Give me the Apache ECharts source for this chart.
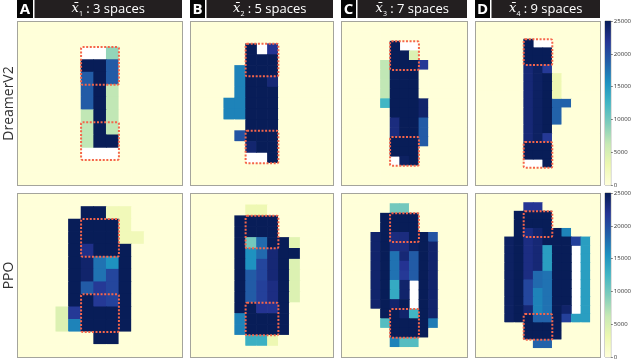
<!DOCTYPE html>
<html><head><meta charset="utf-8">
<script src="https://cdn.jsdelivr.net/npm/echarts@6/dist/echarts.min.js"></script>
<style>html,body{margin:0;padding:0;background:#fff}#c{width:634px;height:362px}</style>
</head><body><div id="c"></div>
<script>
// ---------- data ----------
const rowLabels = ['DreamerV2', 'PPO'];
const panelLetters = ['A', 'B', 'C', 'D'];
const spaces = [3, 5, 7, 9];
const colorbarTicks = [0, 5000, 10000, 15000, 20000, 25000];
const colorMax = 25000;
const ylgnbu = ['#ffffd9','#edf8b1','#c7e9b4','#7fcdbb','#41b6c4','#1d91c0','#225ea8','#253494','#081d58'];

// null = white (not visited / masked)
const dreamerA = [
 [0,0,0,0,0,0,0,0,0,0,0,0,0],
 [0,0,0,0,0,0,0,0,0,0,0,0,0],
 [0,0,0,0,0,null,null,8500,0,0,0,0,0],
 [0,0,0,0,0,25000,25000,19000,0,0,0,0,0],
 [0,0,0,0,0,19000,25000,19000,0,0,0,0,0],
 [0,0,0,0,0,19000,25000,6500,0,0,0,0,0],
 [0,0,0,0,0,19000,25000,6500,0,0,0,0,0],
 [0,0,0,0,0,6500,25000,6500,0,0,0,0,0],
 [0,0,0,0,0,6500,25000,6500,0,0,0,0,0],
 [0,0,0,0,0,6500,25000,25000,0,0,0,0,0],
 [0,0,0,0,0,null,null,null,0,0,0,0,0],
 [0,0,0,0,0,0,0,0,0,0,0,0,0],
 [0,0,0,0,0,0,0,0,0,0,0,0,0]
];
const dreamerB = [
 [0,0,0,0,0,0,0,0,0,0,0,0,0],
 [0,0,0,0,0,0,0,0,0,0,0,0,0],
 [0,0,0,0,0,25000,null,22000,0,0,0,0,0],
 [0,0,0,0,0,25000,25000,25000,0,0,0,0,0],
 [0,0,0,0,16500,25000,25000,25000,0,0,0,0,0],
 [0,0,0,0,16500,25000,25000,23500,0,0,0,0,0],
 [0,0,0,0,16500,25000,25000,25000,0,0,0,0,0],
 [0,0,0,16500,16500,25000,25000,25000,0,0,0,0,0],
 [0,0,0,16500,16500,25000,25000,25000,0,0,0,0,0],
 [0,0,0,0,0,25000,25000,25000,0,0,0,0,0],
 [0,0,0,0,19500,25000,25000,25000,0,0,0,0,0],
 [0,0,0,0,0,23800,25000,25000,0,0,0,0,0],
 [0,0,0,0,0,null,null,25000,0,0,0,0,0],
 [0,0,0,0,0,0,0,0,0,0,0,0,0],
 [0,0,0,0,0,0,0,0,0,0,0,0,0]
];
const dreamerC = [
 [0,0,0,0,0,0,0,0,0,0,0,0,0],
 [0,0,0,0,0,0,0,0,0,0,0,0,0],
 [0,0,0,0,0,25000,null,null,0,0,0,0,0],
 [0,0,0,0,0,25000,25000,4500,0,0,0,0,0],
 [0,0,0,0,6500,25000,25000,25000,21500,0,0,0,0],
 [0,0,0,0,6500,25000,25000,25000,0,0,0,0,0],
 [0,0,0,0,6500,25000,25000,25000,0,0,0,0,0],
 [0,0,0,0,6500,25000,25000,25000,0,0,0,0,0],
 [0,0,0,0,12500,25000,25000,25000,24000,0,0,0,0],
 [0,0,0,0,0,25000,25000,25000,24000,0,0,0,0],
 [0,0,0,0,0,23000,25000,25000,19000,0,0,0,0],
 [0,0,0,0,0,23000,25000,25000,19000,0,0,0,0],
 [0,0,0,0,0,25000,25000,25000,19000,0,0,0,0],
 [0,0,0,0,0,25000,25000,25000,0,0,0,0,0],
 [0,0,0,0,0,null,24500,25000,0,0,0,0,0],
 [0,0,0,0,0,0,0,0,0,0,0,0,0],
 [0,0,0,0,0,0,0,0,0,0,0,0,0]
];
const dreamerD = [
 [0,0,0,0,0,0,0,0,0,0,0,0,0],
 [0,0,0,0,0,0,0,0,0,0,0,0,0],
 [0,0,0,0,0,25000,null,null,0,0,0,0,0],
 [0,0,0,0,0,25000,25000,25000,0,0,0,0,0],
 [0,0,0,0,0,25000,25000,25000,0,0,0,0,0],
 [0,0,0,0,0,23500,24500,21500,0,0,0,0,0],
 [0,0,0,0,0,23500,24500,25000,3000,0,0,0,0],
 [0,0,0,0,0,23500,24500,25000,3000,0,0,0,0],
 [0,0,0,0,0,23500,24500,25000,3000,0,0,0,0],
 [0,0,0,0,0,23500,24500,25000,18500,18500,0,0,0],
 [0,0,0,0,0,23500,24500,25000,18500,0,0,0,0],
 [0,0,0,0,0,23500,24500,25000,18500,0,0,0,0],
 [0,0,0,0,0,23500,24500,25000,0,0,0,0,0],
 [0,0,0,0,0,23500,24500,21500,0,0,0,0,0],
 [0,0,0,0,0,25000,25000,25000,0,0,0,0,0],
 [0,0,0,0,0,25000,25000,25000,0,0,0,0,0],
 [0,0,0,0,0,null,null,25000,0,0,0,0,0],
 [0,0,0,0,0,0,0,0,0,0,0,0,0],
 [0,0,0,0,0,0,0,0,0,0,0,0,0]
];
const ppoA = [
 [0,0,0,0,0,0,0,0,0,0,0,0,0],
 [0,0,0,0,0,25000,25000,2500,2500,0,0,0,0],
 [0,0,0,0,25000,25000,25000,25000,2500,0,0,0,0],
 [0,0,0,0,25000,25000,25000,25000,2500,2500,0,0,0],
 [0,0,0,0,25000,22500,25000,25000,25000,0,0,0,0],
 [0,0,0,0,25000,24000,17500,15500,25000,0,0,0,0],
 [0,0,0,0,25000,24000,17500,20500,25000,0,0,0,0],
 [0,0,0,0,25000,19000,21500,20500,25000,0,0,0,0],
 [0,0,0,0,25000,25000,21500,20800,25000,0,0,0,0],
 [0,0,0,4500,21500,25000,25000,25000,25000,0,0,0,0],
 [0,0,0,4500,16500,25000,25000,25000,25000,0,0,0,0],
 [0,0,0,0,0,0,25000,25000,0,0,0,0,0],
 [0,0,0,0,0,0,0,0,0,0,0,0,0]
];
const ppoB = [
 [0,0,0,0,0,0,0,0,0,0,0,0,0],
 [0,0,0,0,0,3000,3000,0,0,0,0,0,0],
 [0,0,0,0,25000,25000,25000,25000,0,0,0,0,0],
 [0,0,0,0,25000,25000,25000,25000,0,0,0,0,0],
 [0,0,0,0,25000,10000,18000,25000,25000,4000,0,0,0],
 [0,0,0,0,25000,15500,18000,23500,25000,25000,0,0,0],
 [0,0,0,0,25000,15500,20500,23500,25000,4500,0,0,0],
 [0,0,0,0,25000,19000,20500,23500,25000,4500,0,0,0],
 [0,0,0,0,25000,19000,21000,22800,25000,4500,0,0,0],
 [0,0,0,0,25000,19000,21000,22800,25000,4500,0,0,0],
 [0,0,0,0,25000,25000,22000,22000,25000,0,0,0,0],
 [0,0,0,0,16500,25000,25000,25000,25000,0,0,0,0],
 [0,0,0,0,16500,25000,25000,25000,25000,0,0,0,0],
 [0,0,0,0,0,13000,13000,3000,0,0,0,0,0],
 [0,0,0,0,0,0,0,0,0,0,0,0,0]
];
const ppoC = [
 [0,0,0,0,0,0,0,0,0,0,0,0,0],
 [0,0,0,0,0,10000,10000,0,0,0,0,0,0],
 [0,0,0,0,25000,25000,25000,25000,0,0,0,0,0],
 [0,0,0,0,25000,25000,25000,25000,0,0,0,0,0],
 [0,0,0,24000,25000,23000,23000,25000,25000,19500,0,0,0],
 [0,0,0,24000,25000,23000,23000,24500,25000,24000,0,0,0],
 [0,0,0,24000,25000,17500,23500,19000,25000,24000,0,0,0],
 [0,0,0,24000,25000,17500,22000,19000,25000,24000,0,0,0],
 [0,0,0,24000,25000,17500,21500,19000,25000,24000,0,0,0],
 [0,0,0,24000,25000,13500,24000,null,25000,24000,0,0,0],
 [0,0,0,24000,25000,13500,24000,null,25000,24000,0,0,0],
 [0,0,0,24000,25000,24000,25000,null,25000,24000,0,0,0],
 [0,0,0,0,25000,25000,24000,12500,25000,24000,0,0,0],
 [0,0,0,0,11500,25000,25000,25000,25000,17000,0,0,0],
 [0,0,0,0,0,25000,25000,25000,25000,0,0,0,0],
 [0,0,0,0,0,16500,11500,11500,0,0,0,0,0],
 [0,0,0,0,0,0,0,0,0,0,0,0,0]
];
const ppoD = [
 [0,0,0,0,0,0,0,0,0,0,0,0,0],
 [0,0,0,0,0,21800,21800,0,0,0,0,0,0],
 [0,0,0,0,25000,25000,25000,25000,0,0,0,0,0],
 [0,0,0,0,25000,25000,25000,25000,0,0,0,0,0],
 [0,0,0,0,25000,22800,24000,25000,25000,16500,0,0,0],
 [0,0,0,24500,25000,22800,23500,25000,25000,25000,21000,14500,0],
 [0,0,0,24500,25000,22800,23500,14500,25000,25000,null,14500,0],
 [0,0,0,24500,25000,22800,23500,14500,25000,25000,null,14500,0],
 [0,0,0,24500,25000,22800,23500,14500,25000,25000,null,14500,0],
 [0,0,0,24500,25000,22800,18000,17500,25000,25000,null,14500,0],
 [0,0,0,24500,25000,20500,18000,17500,25000,25000,null,14500,0],
 [0,0,0,24500,25000,20500,16500,17500,25000,25000,null,14500,0],
 [0,0,0,24500,25000,20500,16500,17500,25000,25000,null,14500,0],
 [0,0,0,24500,25000,23500,16500,17500,25000,24000,null,14500,0],
 [0,0,0,24500,25000,25000,18500,18500,25000,21000,14500,14500,0],
 [0,0,0,0,0,25000,25000,25000,25000,0,0,0,0],
 [0,0,0,0,0,25000,25000,25000,25000,0,0,0,0],
 [0,0,0,0,0,0,18500,18500,0,0,0,0,0],
 [0,0,0,0,0,0,0,0,0,0,0,0,0]
];
// start / goal regions, as [col0,row0,col1,row1] cell indices
const boxesA = [[5,2,7,4],[5,8,7,10]];
const boxesB = [[5,2,7,4],[5,10,7,12]];
const boxesC = [[5,2,7,4],[5,12,7,14]];
const boxesD = [[5,2,7,4],[5,14,7,16]];

// ---------- layout ----------
const matrices = [[dreamerA, dreamerB, dreamerC, dreamerD],[ppoA, ppoB, ppoC, ppoD]];
const boxes = [boxesA, boxesB, boxesC, boxesD];
const colLeft = [18, 191, 342, 476];
const colWidth = [164, 142, 125, 124];
const rowTop = [22, 194];
const rowHeight = 163;
const cbLeft = 605, cbWidth = 8;
const FONT = '"Open Sans", "Noto Sans", sans-serif';

const grids = [], xAxes = [], yAxes = [], series = [], boxSeries = [], graphics = [];
let gi = 0;
for (let r = 0; r < 2; r++) {
  for (let c = 0; c < 4; c++) {
    const m = matrices[r][c];
    grids.push({left: colLeft[c], top: rowTop[r], width: colWidth[c], height: rowHeight,
      show: true, backgroundColor: '#ffffff', borderColor: '#a4a49c', borderWidth: 2});
    xAxes.push({type: 'category', gridIndex: gi, data: m[0].map((_, i) => String(i)), show: false});
    yAxes.push({type: 'category', gridIndex: gi, inverse: true, data: m.map((_, i) => String(i)), show: false});
    const cells = [];
    m.forEach((row, ri) => row.forEach((v, ci) => cells.push([ci, ri, v === null ? '-' : v])));
    series.push({type: 'custom', xAxisIndex: gi, yAxisIndex: gi, data: cells, silent: true, clip: true,
      encode: {x: 0, y: 1},
      renderItem: function (params, api) {
        const v = api.value(2);
        if (isNaN(v)) return null;
        const p = api.coord([api.value(0), api.value(1)]);
        const s = api.size([1, 1]);
        return {type: 'rect', shape: {x: p[0] - s[0] / 2 - 0.35, y: p[1] - s[1] / 2 - 0.35,
          width: s[0] + 0.7, height: s[1] + 0.7}, style: {fill: api.visual('color')}};
      }});
    boxSeries.push({type: 'custom', xAxisIndex: gi, yAxisIndex: gi, silent: true, z: 5,
      data: boxes[c], encode: {x: [0, 2], y: [1, 3]},
      renderItem: function (params, api) {
        const p0 = api.coord([api.value(0), api.value(1)]);
        const p1 = api.coord([api.value(2), api.value(3)]);
        const s = api.size([1, 1]);
        const x0 = Math.min(p0[0], p1[0]) - s[0] / 2, x1 = Math.max(p0[0], p1[0]) + s[0] / 2;
        const y0 = Math.min(p0[1], p1[1]) - s[1] / 2, y1 = Math.max(p0[1], p1[1]) + s[1] / 2;
        return {type: 'rect', shape: {x: x0, y: y0, width: x1 - x0, height: y1 - y0, r: 1.5},
          style: {fill: null, stroke: '#f5654b', lineWidth: 2, lineDash: [2, 1.6], lineCap: 'butt'}};
      }});
    gi++;
  }
}
// colorbars
const cbSeries = [];
for (let r = 0; r < 2; r++) {
  grids.push({left: cbLeft, top: rowTop[r] - 1, width: cbWidth, height: rowHeight + 1,
    show: true, borderColor: '#a4a49c', borderWidth: 1});
  xAxes.push({type: 'category', gridIndex: gi, data: ['cb'], show: false});
  yAxes.push({type: 'value', gridIndex: gi, min: colorbarTicks[0], max: colorbarTicks[colorbarTicks.length - 1],
    interval: colorbarTicks[1] - colorbarTicks[0], position: 'right',
    axisLine: {show: false}, splitLine: {show: false},
    axisTick: {show: true, length: 2, lineStyle: {color: '#333', width: 0.6}},
    axisLabel: {fontSize: 6, margin: 3, color: '#333', fontFamily: FONT, formatter: v => String(v)}});
  cbSeries.push({type: 'bar', xAxisIndex: gi, yAxisIndex: gi, data: [colorMax], barWidth: '100%', silent: true,
    itemStyle: {color: {type: 'linear', x: 0, y: 1, x2: 0, y2: 0,
      colorStops: ylgnbu.map((col, i) => ({offset: i / (ylgnbu.length - 1), color: col}))}}});
  gi++;
}

// column title bars
const letterBox = [[17, 16], [190, 15], [341, 15], [475, 15]];
for (let c = 0; c < 4; c++) {
  const lx = letterBox[c][0], lw = letterBox[c][1];
  const barX = lx + lw + 1.5;
  const barR = colLeft[c] + colWidth[c];
  graphics.push({type: 'rect', shape: {x: lx, y: 0, width: lw, height: 18}, style: {fill: '#050505'}, silent: true});
  graphics.push({type: 'rect', shape: {x: barX, y: 0, width: barR - barX, height: 18}, style: {fill: '#231f20'}, silent: true});
  graphics.push({type: 'text', x: lx + lw / 2, y: 9.5, silent: true,
    style: {text: panelLetters[c], fill: '#fff', font: 'bold 15px ' + FONT, align: 'center', verticalAlign: 'middle'}});
  graphics.push({type: 'text', x: (barX + barR) / 2, y: 9, silent: true,
    style: {text: '{x|x\u0304}{s|' + (c + 1) + '}{t| : ' + spaces[c] + ' spaces}', align: 'center', verticalAlign: 'middle', fill: '#fff',
      rich: {
        x: {fill: '#fff', fontFamily: '"DejaVu Serif", serif', fontStyle: 'italic', fontSize: 13, lineHeight: 16, verticalAlign: 'middle'},
        s: {fill: '#fff', fontFamily: FONT, fontSize: 7, lineHeight: 16, verticalAlign: 'bottom'},
        t: {fill: '#fff', fontFamily: FONT, fontSize: 13, lineHeight: 16, verticalAlign: 'middle'}
      }}});
}
// row labels
for (let r = 0; r < 2; r++) {
  graphics.push({type: 'text', x: 9, y: rowTop[r] + rowHeight / 2, rotation: Math.PI / 2, silent: true,
    style: {text: rowLabels[r], fill: '#333', font: '14px ' + FONT, align: 'center', verticalAlign: 'middle'}});
}

const chart = echarts.init(document.getElementById('c'), null, {renderer: 'canvas'});
chart.setOption({
  animation: false,
  grid: grids, xAxis: xAxes, yAxis: yAxes,
  visualMap: {type: 'continuous', show: false, min: 0, max: colorMax, dimension: 2, seriesIndex: [0,1,2,3,4,5,6,7],
    inRange: {color: ylgnbu}},
  series: series.concat(boxSeries, cbSeries),
  graphic: graphics
});
</script></body></html>
